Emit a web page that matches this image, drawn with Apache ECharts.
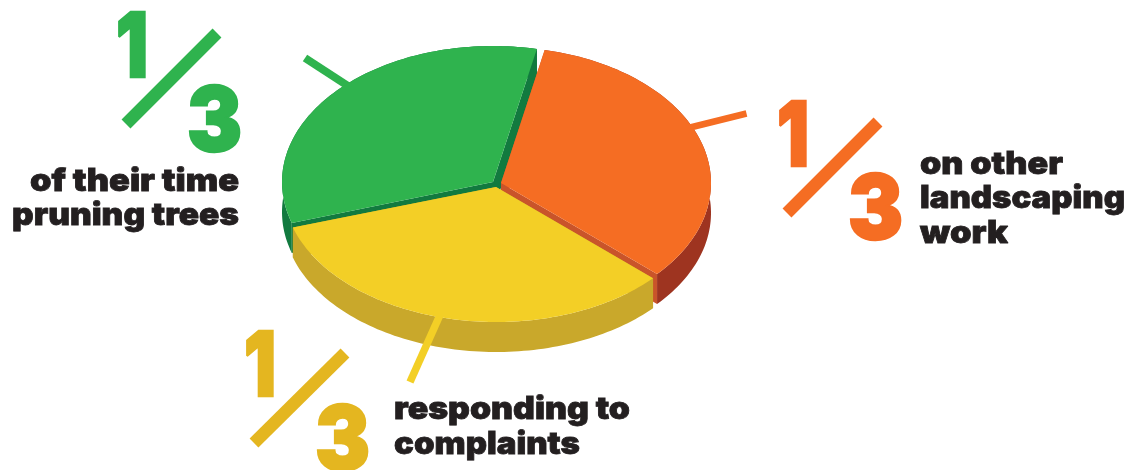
<!DOCTYPE html>
<html>
<head>
<meta charset="utf-8">
<title>How the work day is split</title>
<style>html,body{margin:0;padding:0;background:#fff}#chart{width:1129px;height:470px}</style>
<script src="https://cdn.jsdelivr.net/npm/echarts@6/dist/echarts.min.js"></script>
</head>
<body>
<div id="chart"></div>
<script>
// Data: each task takes an equal share of the day
const categories = ['of their time pruning trees', 'on other landscaping work', 'responding to complaints'];
const shares = [1, 1, 1];

// Slice colours: top face, outer wall, cut face, leader line, numerals
const topColors = ['#2fb34e', '#f56d23', '#f3cf26'];
const wallColors = ['#127a3f', '#9e3420', '#c9a82b'];
const cutColors = ['#127a3f', '#c9542a', '#c9a82b'];
const numeralColors = ['#2fb34e', '#f56d23', '#e4b620'];
const inkColor = '#231f20';

// Pie geometry in pixels: tilted ellipse, extrusion, per-slice apex (slices are pulled apart)
const radiiX = [211, 210, 213], radiiY = [136, 136, 135], depth = 30, firstAngle = 78;
const apexes = [[493, 182], [501, 183], [496, 187]];
const sliceOrder = [0, 1, 2];
// Start angle of each slice relative to firstAngle, running clockwise
const startOffsets = [119.5, 0, -120.5];

const leaders = [
  { from: [305, 58], to: [365, 97], width: 8 },
  { from: [746.5, 113.5], to: [672, 132], width: 6.5 },
  { from: [410, 382], to: [444, 306], width: 7.5 }
];

// Callouts: fraction pieces and the wrapped caption lines, positioned by their baselines
const numerals = [
  { one: [116, 78], three: [187, 152], bar: [[126, 124], [217, 33]] },
  { one: [777, 167], three: [848, 240], bar: [[787, 213], [878, 122]] },
  { one: [244, 397], three: [315, 471], bar: [[254, 443], [345, 353]] }
];
const captions = [
  { text: 'of their time', x: 30, y: 190, w: 209 },
  { text: 'pruning trees', x: 12, y: 224, w: 227 },
  { text: 'on other', x: 920, y: 173, w: 143 },
  { text: 'landscaping', x: 920, y: 207, w: 205 },
  { text: 'work', x: 920, y: 242, w: 88 },
  { text: 'responding to', x: 394, y: 418, w: 236 },
  { text: 'complaints', x: 394, y: 453, w: 186 }
];

const captionFont = '900 31px Inter, "Noto Sans", sans-serif';
const numeralFont = '900 89px Inter, "Noto Sans", sans-serif';
// Distance from the top of a text box down to its baseline
const captionAscent = 24, numeralAscent = 72;
const ruler = document.createElement('canvas').getContext('2d');
function stretchFor(text, font, width) {
  ruler.font = font;
  return width / ruler.measureText(text).width;
}

function drawSlice(params, api) {
  const i = params.dataIndex;
  const total = shares.reduce((a, b) => a + b, 0);
  const sweep = api.value(1) / total * 360;
  const a1 = firstAngle + startOffsets[i];
  const a2 = a1 - sweep + (i === 0 ? 0.5 : 0);
  const [cx, cy] = apexes[i];
  const rim = (deg, drop) => {
    const r = deg * Math.PI / 180;
    return [cx + radiiX[i] * Math.cos(r), cy - radiiY[i] * Math.sin(r) + drop];
  };
  const px = (pts) => pts.map((p) => api.coord(p));
  const arc = [], arcBelow = [];
  const steps = 90;
  for (let k = 0; k <= steps; k++) {
    const a = a1 + (a2 - a1) * k / steps;
    arc.push(rim(a, 0));
    arcBelow.push(rim(a, depth));
  }
  const poly = (points, fill) => ({
    type: 'polygon',
    shape: { points: px(points) },
    style: { fill: fill, stroke: null }
  });
  const cutFace = (deg) => poly([[cx, cy], rim(deg, 0), rim(deg, depth), [cx, cy + depth]], cutColors[i]);
  const lead = leaders[i];
  const [p, q] = px([lead.from, lead.to]);
  return {
    type: 'group',
    children: [
      cutFace(a1),
      cutFace(a2),
      poly(arc.concat(arcBelow.slice().reverse()), wallColors[i]),
      {
        type: 'line',
        shape: { x1: p[0], y1: p[1], x2: q[0], y2: q[1] },
        style: { stroke: topColors[i], lineWidth: lead.width, lineCap: 'butt' }
      },
      poly([[cx, cy]].concat(arc), topColors[i])
    ]
  };
}

const graphics = [];
numerals.forEach((n, i) => {
  const color = numeralColors[i];
  graphics.push({
    type: 'line',
    shape: { x1: n.bar[0][0], y1: n.bar[0][1], x2: n.bar[1][0], y2: n.bar[1][1] },
    style: { stroke: color, lineWidth: 12.5 }
  });
  [['1', n.one, 32], ['3', n.three, 55]].forEach(([glyph, at, w]) => {
    graphics.push({
      type: 'text',
      x: at[0], y: at[1] - numeralAscent,
      scaleX: stretchFor(glyph, numeralFont, w),
      style: { text: glyph, font: numeralFont, fill: color, stroke: color, lineWidth: 2.5, textAlign: 'left', textVerticalAlign: 'top' }
    });
  });
});
captions.forEach((c) => {
  graphics.push({
    type: 'text',
    x: c.x, y: c.y - captionAscent,
    scaleX: stretchFor(c.text, captionFont, c.w),
    style: { text: c.text, font: captionFont, fill: inkColor, stroke: inkColor, lineWidth: 0.8, textAlign: 'left', textVerticalAlign: 'top' }
  });
});

const chart = echarts.init(document.getElementById('chart'), null, { renderer: 'canvas' });
chart.setOption({
  backgroundColor: '#ffffff',
  animation: false,
  tooltip: { show: false },
  grid: { left: 0, right: 0, top: 0, bottom: 0 },
  xAxis: { type: 'value', min: 0, max: 1129, show: false },
  yAxis: { type: 'value', min: 0, max: 470, inverse: true, show: false },
  graphic: { elements: graphics },
  series: [{
    type: 'custom',
    name: 'Share of time',
    coordinateSystem: 'cartesian2d',
    silent: true,
    clip: false,
    renderItem: drawSlice,
    encode: { x: 0, y: 1 },
    data: sliceOrder.map((i) => ({ name: categories[i], value: [i, shares[i]] }))
  }]
});
</script>
</body>
</html>
